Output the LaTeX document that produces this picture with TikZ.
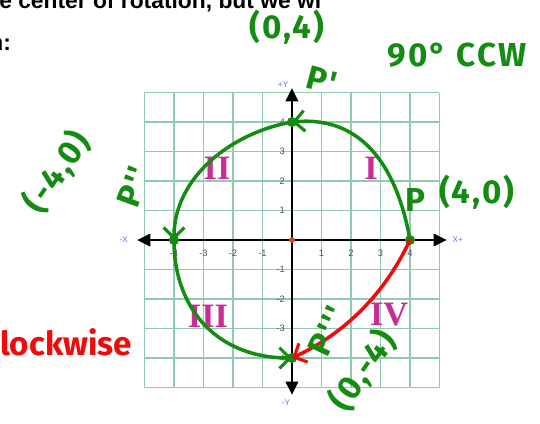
\documentclass[tikz,border=0pt]{standalone}
\usepackage{fontspec}
\setmainfont{Liberation Sans}
\newfontfamily\handfont{Fira Sans}[LetterSpace=6]
\newfontfamily\plainhand{Fira Sans}
\newfontfamily\quadfont{Liberation Serif}
\usepackage{xcolor}
\definecolor{gridgreen}{RGB}{145,202,175}
\definecolor{inkgreen}{RGB}{20,140,20}
\definecolor{inkred}{RGB}{240,10,10}
\definecolor{quadpink}{RGB}{200,45,150}
\definecolor{axisblue}{RGB}{110,110,245}
\definecolor{ticktext}{RGB}{80,80,80}
\definecolor{origindot}{RGB}{225,70,25}
\usetikzlibrary{arrows.meta,positioning}

\begin{document}
\begin{tikzpicture}[
  gridline/.style={line width=1.6pt, color=gridgreen},
  axisline/.style={line width=2.4pt, {Triangle[length=4.5mm,width=4.2mm]}-{Triangle[length=4.5mm,width=4.2mm]}},
  axislbl/.style={font=\fontsize{8}{8}\selectfont, color=axisblue, inner sep=1pt},
  ticklbl/.style={font=\fontsize{9}{9}\selectfont, color=ticktext, inner sep=1pt},
  quadlbl/.style={font=\quadfont\bfseries\fontsize{33}{33}\selectfont, color=quadpink},
  pagetext/.style={font=\bfseries\fontsize{22}{22}\selectfont, inner sep=0pt},
  inktext/.style={font=\handfont\bfseries\fontsize{32}{32}\selectfont, color=inkgreen, inner sep=0pt},
  inkdot/.style={circle, fill=inkgreen, inner sep=0pt, minimum size=3.4mm},
  inkpath/.style={line width=3.4pt, color=inkgreen, line cap=round, -{Straight Barb[length=3.5mm,width=7mm,line width=3pt]}},
  redpath/.style={inkpath, color=inkred}
]
\useasboundingbox (-9.898,-6.203) rectangle (8.407,8.136);
\clip (-9.898,-6.203) rectangle (8.407,8.136);

% graph paper
\draw[gridline] (-5,-5) grid (5,5);

\coordinate (xw) at (-5.25,0);
\coordinate (xe) at (5.25,0);
\coordinate (yn) at (0,5.15);
\coordinate (ys) at (0,-5.25);
\draw[axisline] (xw) -- (xe);
\draw[axisline] (ys) -- (yn);

\node[axislbl] (xneg) at (-5.7,0) {-X};
\node[axislbl] (xpos) at (5.62,0) {X+};
\node[axislbl] (ypos) at (-0.3,5.25) {+Y};
\node[axislbl] (yneg) at (-0.2,-5.5) {-Y};

\foreach \i in {-4,-3,-2,-1,1,2,3,4} {
  \node[ticklbl] (xt\i) at (\i,-0.45) {\i};
  \node[ticklbl, anchor=east] (yt\i) at (-0.2,\i) {\i};
}

\node[circle, fill=origindot, inner sep=0pt, minimum size=2mm] (O) at (0,0) {};

\node[quadlbl] (q1) at (2.68,2.42) {I};
\node[quadlbl] (q2) at (-2.54,2.42) {II};
\node[quadlbl] (q3) at (-2.85,-2.6) {III};
\node[quadlbl] (q4) at (3.29,-2.54) {IV};

% page text above
\node[pagetext, anchor=base west] (topline) at (-9.93,7.86) {e center of rotation, but we wi};
\node[pagetext, anchor=base east] (colon) at (-9.52,6.44) {n:};

% the point and its images
\node[inkdot] (P) at (4,0) {};
\node[inkdot] (P1) at (0,4) {};
\node[inkdot] (P2) at (-4,0) {};
\node[inkdot] (P3) at (0,-4) {};

\draw[inkpath] (P.center) to[out=100,in=5,looseness=1.1] (P1.center);
\draw[inkpath] (P1.center) to[out=190,in=90,looseness=0.95] (P2.center);
\draw[inkpath] (P2.center) to[out=270,in=180,looseness=1.1] (P3.center);
\draw[redpath] (P.center) to[out=245,in=25,looseness=0.9] (P3.center);

% handwritten notes
\node[inktext] (lblP1) at (-0.17,7.22) {(0,4)};
\node[inktext, rotate=-15] (nameP1) at (1.02,5.42) {P'};
\node[inktext] (angle) at (5.59,6.27) {90° CCW};
\node[inktext, rotate=70] (nameP2) at (-5.36,1.80) {P''};
\node[inktext, rotate=55] (lblP2) at (-7.97,2.31) {(-4,0)};
\node[inktext] (nameP) at (4.17,1.36) {P};
\node[inktext] (lblP) at (6.27,1.63) {(4,0)};
\node[inktext, rotate=65] (nameP3) at (1.22,-3.08) {P'''};
\node[inktext, rotate=55] (lblP3) at (2.4,-4.42) {(0,-4)};
\node[inktext, font=\plainhand\bfseries\fontsize{32}{32}\selectfont, color=inkred, anchor=base east] (cw) at (-5.42,-3.9) {Clockwise};
\end{tikzpicture}
\end{document}
